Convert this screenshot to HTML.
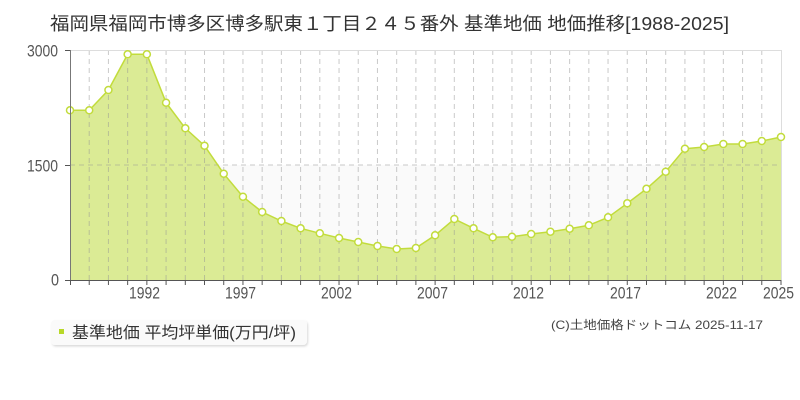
<!DOCTYPE html>
<html><head><meta charset="utf-8"><style>
html,body{margin:0;padding:0;background:#fff;}
svg{display:block;}
text{font-family:"Liberation Sans","Noto Sans CJK JP",sans-serif;}
</style></head><body>
<svg width="800" height="400" viewBox="0 0 800 400" xmlns="http://www.w3.org/2000/svg">
<defs>
<filter id="sh" x="-10%" y="-30%" width="120%" height="160%"><feDropShadow dx="1" dy="1.5" stdDeviation="1" flood-color="#000" flood-opacity="0.15"/></filter>
</defs>
<text x="50" y="30" font-size="18" fill="#333" textLength="679" lengthAdjust="spacingAndGlyphs">福岡県福岡市博多区博多駅東１丁目２４５番外 基準地価 地価推移[1988-2025]</text>
<rect x="70" y="50" width="711" height="115" fill="#ffffff"/>
<rect x="70" y="165" width="711" height="115" fill="#fafafa"/>
<polygon fill="#dbeb95" points="70,280 70,110.3 89.22,110.3 108.43,90 127.65,54.3 146.86,54.3 166.08,102.7 185.3,128.3 204.51,145.7 223.73,173.7 242.95,196.7 262.16,212 281.38,221 300.59,228.3 319.81,233.3 339.03,238 358.24,242 377.46,246 396.68,249 415.89,248 435.11,235.3 454.32,219 473.54,228.3 492.76,237.3 511.97,236.7 531.19,234 550.41,231.7 569.62,228.7 588.84,225.3 608.05,217.3 627.27,203.3 646.49,188.8 665.7,171.7 684.92,148.7 704.14,147 723.35,144 742.57,144 761.78,141 781,137 781,280"/>
<g stroke="rgba(150,150,150,0.5)" stroke-width="1" stroke-dasharray="5,4">
<line x1="89.22" y1="50" x2="89.22" y2="280"/><line x1="108.43" y1="50" x2="108.43" y2="280"/><line x1="127.65" y1="50" x2="127.65" y2="280"/><line x1="146.86" y1="50" x2="146.86" y2="280"/><line x1="166.08" y1="50" x2="166.08" y2="280"/><line x1="185.3" y1="50" x2="185.3" y2="280"/><line x1="204.51" y1="50" x2="204.51" y2="280"/><line x1="223.73" y1="50" x2="223.73" y2="280"/><line x1="242.95" y1="50" x2="242.95" y2="280"/><line x1="262.16" y1="50" x2="262.16" y2="280"/><line x1="281.38" y1="50" x2="281.38" y2="280"/><line x1="300.59" y1="50" x2="300.59" y2="280"/><line x1="319.81" y1="50" x2="319.81" y2="280"/><line x1="339.03" y1="50" x2="339.03" y2="280"/><line x1="358.24" y1="50" x2="358.24" y2="280"/><line x1="377.46" y1="50" x2="377.46" y2="280"/><line x1="396.68" y1="50" x2="396.68" y2="280"/><line x1="415.89" y1="50" x2="415.89" y2="280"/><line x1="435.11" y1="50" x2="435.11" y2="280"/><line x1="454.32" y1="50" x2="454.32" y2="280"/><line x1="473.54" y1="50" x2="473.54" y2="280"/><line x1="492.76" y1="50" x2="492.76" y2="280"/><line x1="511.97" y1="50" x2="511.97" y2="280"/><line x1="531.19" y1="50" x2="531.19" y2="280"/><line x1="550.41" y1="50" x2="550.41" y2="280"/><line x1="569.62" y1="50" x2="569.62" y2="280"/><line x1="588.84" y1="50" x2="588.84" y2="280"/><line x1="608.05" y1="50" x2="608.05" y2="280"/><line x1="627.27" y1="50" x2="627.27" y2="280"/><line x1="646.49" y1="50" x2="646.49" y2="280"/><line x1="665.7" y1="50" x2="665.7" y2="280"/><line x1="684.92" y1="50" x2="684.92" y2="280"/><line x1="704.14" y1="50" x2="704.14" y2="280"/><line x1="723.35" y1="50" x2="723.35" y2="280"/><line x1="742.57" y1="50" x2="742.57" y2="280"/><line x1="761.78" y1="50" x2="761.78" y2="280"/>
<line x1="70" y1="165" x2="781" y2="165"/>
</g>
<line x1="70" y1="50.5" x2="781" y2="50.5" stroke="#ddd"/>
<line x1="781.5" y1="50" x2="781.5" y2="280" stroke="#ddd"/>
<polyline fill="none" stroke="#c2dc3c" stroke-width="1.5" points="70,110.3 89.22,110.3 108.43,90 127.65,54.3 146.86,54.3 166.08,102.7 185.3,128.3 204.51,145.7 223.73,173.7 242.95,196.7 262.16,212 281.38,221 300.59,228.3 319.81,233.3 339.03,238 358.24,242 377.46,246 396.68,249 415.89,248 435.11,235.3 454.32,219 473.54,228.3 492.76,237.3 511.97,236.7 531.19,234 550.41,231.7 569.62,228.7 588.84,225.3 608.05,217.3 627.27,203.3 646.49,188.8 665.7,171.7 684.92,148.7 704.14,147 723.35,144 742.57,144 761.78,141 781,137"/>
<g fill="#fff" stroke="#c2dc3c" stroke-width="1.5">
<circle cx="70" cy="110.3" r="3.5"/><circle cx="89.22" cy="110.3" r="3.5"/><circle cx="108.43" cy="90" r="3.5"/><circle cx="127.65" cy="54.3" r="3.5"/><circle cx="146.86" cy="54.3" r="3.5"/><circle cx="166.08" cy="102.7" r="3.5"/><circle cx="185.3" cy="128.3" r="3.5"/><circle cx="204.51" cy="145.7" r="3.5"/><circle cx="223.73" cy="173.7" r="3.5"/><circle cx="242.95" cy="196.7" r="3.5"/><circle cx="262.16" cy="212" r="3.5"/><circle cx="281.38" cy="221" r="3.5"/><circle cx="300.59" cy="228.3" r="3.5"/><circle cx="319.81" cy="233.3" r="3.5"/><circle cx="339.03" cy="238" r="3.5"/><circle cx="358.24" cy="242" r="3.5"/><circle cx="377.46" cy="246" r="3.5"/><circle cx="396.68" cy="249" r="3.5"/><circle cx="415.89" cy="248" r="3.5"/><circle cx="435.11" cy="235.3" r="3.5"/><circle cx="454.32" cy="219" r="3.5"/><circle cx="473.54" cy="228.3" r="3.5"/><circle cx="492.76" cy="237.3" r="3.5"/><circle cx="511.97" cy="236.7" r="3.5"/><circle cx="531.19" cy="234" r="3.5"/><circle cx="550.41" cy="231.7" r="3.5"/><circle cx="569.62" cy="228.7" r="3.5"/><circle cx="588.84" cy="225.3" r="3.5"/><circle cx="608.05" cy="217.3" r="3.5"/><circle cx="627.27" cy="203.3" r="3.5"/><circle cx="646.49" cy="188.8" r="3.5"/><circle cx="665.7" cy="171.7" r="3.5"/><circle cx="684.92" cy="148.7" r="3.5"/><circle cx="704.14" cy="147" r="3.5"/><circle cx="723.35" cy="144" r="3.5"/><circle cx="742.57" cy="144" r="3.5"/><circle cx="761.78" cy="141" r="3.5"/><circle cx="781" cy="137" r="3.5"/>
</g>
<line x1="70.5" y1="50" x2="70.5" y2="280" stroke="#777"/>
<line x1="65" y1="280.5" x2="781" y2="280.5" stroke="#555"/>
<g stroke="#555">
<line x1="65" y1="50.5" x2="70" y2="50.5"/><line x1="65" y1="165.5" x2="70" y2="165.5"/>
<line x1="70.5" y1="280" x2="70.5" y2="285"/><line x1="89.22" y1="280" x2="89.22" y2="285"/><line x1="108.43" y1="280" x2="108.43" y2="285"/><line x1="127.65" y1="280" x2="127.65" y2="285"/><line x1="146.86" y1="280" x2="146.86" y2="285"/><line x1="166.08" y1="280" x2="166.08" y2="285"/><line x1="185.3" y1="280" x2="185.3" y2="285"/><line x1="204.51" y1="280" x2="204.51" y2="285"/><line x1="223.73" y1="280" x2="223.73" y2="285"/><line x1="242.95" y1="280" x2="242.95" y2="285"/><line x1="262.16" y1="280" x2="262.16" y2="285"/><line x1="281.38" y1="280" x2="281.38" y2="285"/><line x1="300.59" y1="280" x2="300.59" y2="285"/><line x1="319.81" y1="280" x2="319.81" y2="285"/><line x1="339.03" y1="280" x2="339.03" y2="285"/><line x1="358.24" y1="280" x2="358.24" y2="285"/><line x1="377.46" y1="280" x2="377.46" y2="285"/><line x1="396.68" y1="280" x2="396.68" y2="285"/><line x1="415.89" y1="280" x2="415.89" y2="285"/><line x1="435.11" y1="280" x2="435.11" y2="285"/><line x1="454.32" y1="280" x2="454.32" y2="285"/><line x1="473.54" y1="280" x2="473.54" y2="285"/><line x1="492.76" y1="280" x2="492.76" y2="285"/><line x1="511.97" y1="280" x2="511.97" y2="285"/><line x1="531.19" y1="280" x2="531.19" y2="285"/><line x1="550.41" y1="280" x2="550.41" y2="285"/><line x1="569.62" y1="280" x2="569.62" y2="285"/><line x1="588.84" y1="280" x2="588.84" y2="285"/><line x1="608.05" y1="280" x2="608.05" y2="285"/><line x1="627.27" y1="280" x2="627.27" y2="285"/><line x1="646.49" y1="280" x2="646.49" y2="285"/><line x1="665.7" y1="280" x2="665.7" y2="285"/><line x1="684.92" y1="280" x2="684.92" y2="285"/><line x1="704.14" y1="280" x2="704.14" y2="285"/><line x1="723.35" y1="280" x2="723.35" y2="285"/><line x1="742.57" y1="280" x2="742.57" y2="285"/><line x1="761.78" y1="280" x2="761.78" y2="285"/><line x1="781" y1="280" x2="781" y2="285"/>
</g>
<g font-size="17" fill="#555">
<text x="27" y="56.5" textLength="31" lengthAdjust="spacingAndGlyphs">3000</text>
<text x="27" y="171.5" textLength="31" lengthAdjust="spacingAndGlyphs">1500</text>
<text x="51" y="285.5" textLength="8" lengthAdjust="spacingAndGlyphs">0</text>
</g>
<g font-size="17" fill="#555">
<text x="129" y="298.5" textLength="31" lengthAdjust="spacingAndGlyphs">1992</text>
<text x="225" y="298.5" textLength="31" lengthAdjust="spacingAndGlyphs">1997</text>
<text x="321" y="298.5" textLength="31" lengthAdjust="spacingAndGlyphs">2002</text>
<text x="417" y="298.5" textLength="31" lengthAdjust="spacingAndGlyphs">2007</text>
<text x="513" y="298.5" textLength="31" lengthAdjust="spacingAndGlyphs">2012</text>
<text x="610" y="298.5" textLength="31" lengthAdjust="spacingAndGlyphs">2017</text>
<text x="706" y="298.5" textLength="31" lengthAdjust="spacingAndGlyphs">2022</text>
<text x="763" y="298.5" textLength="31" lengthAdjust="spacingAndGlyphs">2025</text>
</g>
<rect x="51" y="320" width="256" height="25" rx="4" fill="#fafafa" filter="url(#sh)"/>
<rect x="59" y="329" width="5" height="5" fill="#b8d828"/>
<text x="72" y="338" font-size="16" fill="#333" textLength="224" lengthAdjust="spacingAndGlyphs">基準地価 平均坪単価(万円/坪)</text>
<text x="551" y="329" font-size="12" fill="#444" textLength="212" lengthAdjust="spacingAndGlyphs">(C)土地価格ドットコム 2025-11-17</text>
</svg>
</body></html>
